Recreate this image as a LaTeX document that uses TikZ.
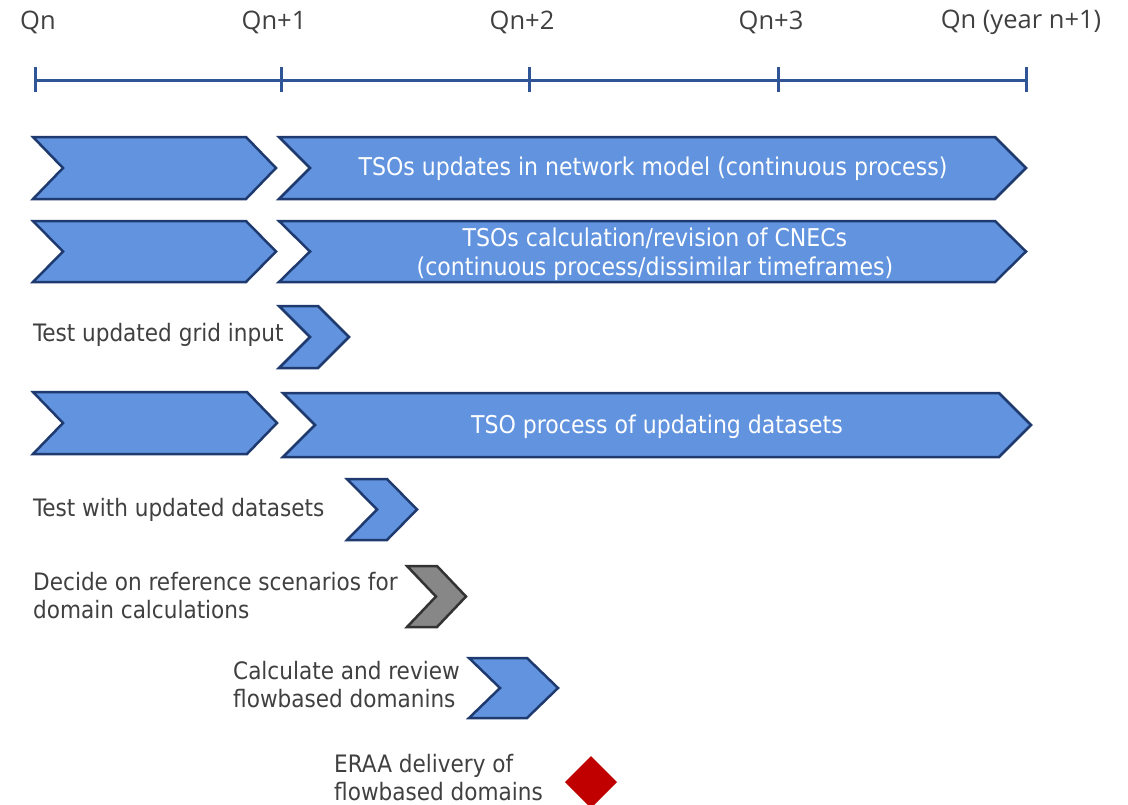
\documentclass[tikz,border=0pt]{standalone}
\usepackage{fontspec}
\setmainfont{DejaVu Sans Condensed}
\newfontfamily\qfont{Open Sans}

\definecolor{axisblue}{HTML}{2F5597}
\definecolor{chevfill}{HTML}{6193DF}
\definecolor{chevline}{HTML}{1F3A6E}
\definecolor{greyfill}{HTML}{878787}
\definecolor{greyline}{HTML}{333333}
\definecolor{txtgrey}{HTML}{404040}
\definecolor{diared}{HTML}{C00000}

% chevron: style, left, top, bottom, body right, point depth
\newcommand\chevron[6]{%
  \draw[#1] (#2,#3) -- (#5,#3) -- ({#5+#6},{(#3+#4)/2}) -- (#5,#4)
    -- (#2,#4) -- ({#2+#6},{(#3+#4)/2}) -- cycle;}

\tikzset{
  bluechev/.style={fill=chevfill, draw=chevline, line width=2.5pt, line join=miter},
  greychev/.style={fill=greyfill, draw=greyline, line width=2.5pt, line join=miter},
  axis/.style={draw=axisblue, line width=3pt},
  quarter/.style={text=txtgrey, font=\qfont\fontsize{25.5}{30}\selectfont, inner sep=0pt},
  intext/.style={text=white, font=\fontsize{24.5}{28.5}\selectfont, align=center, inner sep=0pt},
  steplabel/.style={text=txtgrey, font=\fontsize{24}{28}\selectfont, align=left, anchor=west, inner sep=0pt},
}

\begin{document}
\begin{tikzpicture}[x=1pt, y=-1pt]
\useasboundingbox (0,0) rectangle (1128,804);

% time axis
\draw[axis] (35,80) -- (1026,80);
\foreach \t in {35,281,529,778,1026}
  \draw[axis] (\t,67) -- (\t,92);

\node[quarter] (q0) at (38,22) {Qn};
\node[quarter] (q1) at (274,22) {Qn+1};
\node[quarter] (q2) at (522,22) {Qn+2};
\node[quarter] (q3) at (771,22) {Qn+3};
\node[quarter] (q4) at (1021,22) {Qn (year n+1)};

% network model
\chevron{bluechev}{33}{137}{199}{246}{30}
\chevron{bluechev}{279}{137}{199}{995}{31}
\node[intext] (netmodel) at (653,168.5) {TSOs updates in network model (continuous process)};

% CNECs
\chevron{bluechev}{33}{221}{282}{246}{30}
\chevron{bluechev}{279}{221}{282}{995}{31}
\node[intext] (cnec) at (655,254) {TSOs calculation/revision of CNECs\\(continuous process/dissimilar timeframes)};

% grid input test
\node[steplabel] (gridlbl) at (33,335) {Test updated grid input};
\chevron{bluechev}{279}{306}{368}{318}{31}

% datasets
\chevron{bluechev}{33}{392}{454}{247}{30}
\chevron{bluechev}{283}{393}{457}{999}{32}
\node[intext] (datasets) at (657,427) {TSO process of updating datasets};

% dataset test
\node[steplabel] (dslbl) at (33,509.5) {Test with updated datasets};
\chevron{bluechev}{347}{479}{540}{387}{30}

% reference scenarios
\node[steplabel] (reflbl) at (33,596) {Decide on reference scenarios for\\domain calculations};
\chevron{greychev}{407}{566}{627}{437}{29}

% domain calculation
\node[steplabel] (fblbl) at (233,685) {Calculate and review\\flowbased domanins};
\chevron{bluechev}{469}{658}{718}{527}{31}

% delivery milestone
\node[steplabel] (eraalbl) at (334,778) {ERAA delivery of\\flowbased domains};
\fill[diared] (591,756) -- (617,782) -- (591,808) -- (565,782) -- cycle;
\end{tikzpicture}
\end{document}
